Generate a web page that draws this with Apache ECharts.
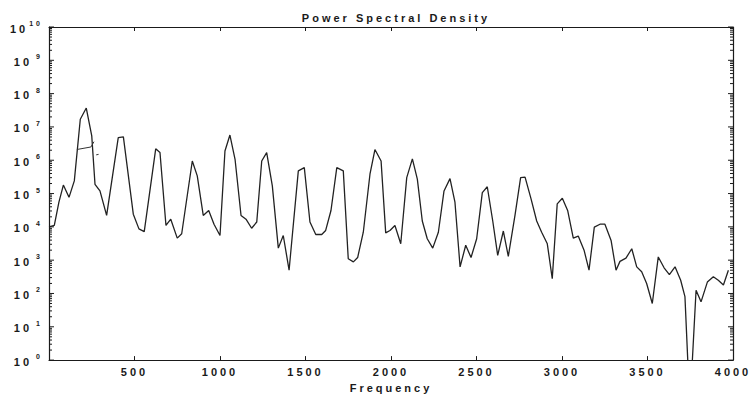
<!DOCTYPE html>
<html>
<head>
<meta charset="utf-8">
<script src="https://cdn.jsdelivr.net/npm/echarts@6/dist/echarts.min.js"></script>
<style>
  html, body { margin: 0; padding: 0; background: #ffffff; }
  #chart { width: 751px; height: 398px; }
  #chart text { letter-spacing: 3px; }
</style>
</head>
<body>
<div id="chart"></div>
<script>
// Frequencies (Hz) of the line's vertices
const freqs = [
  0, 31, 58, 84, 117, 148, 183, 218, 250, 269, 298, 337, 405, 435, 493, 526, 557, 624, 649,
  684, 712, 750, 776, 838, 867, 902, 934, 965, 1000, 1029, 1058, 1088, 1123, 1152, 1185, 1215,
  1244, 1273, 1306, 1341, 1370, 1404, 1458, 1493, 1526, 1560, 1595, 1618, 1649, 1683, 1721,
  1750, 1780, 1805, 1838, 1877, 1906, 1942, 1969, 1994, 2023, 2057, 2092, 2125, 2154, 2183,
  2212, 2244, 2277, 2310, 2345, 2374, 2404, 2437, 2468, 2501, 2534, 2563, 2595, 2624, 2657,
  2686, 2725, 2758, 2784, 2819, 2852, 2881, 2914, 2943, 2972, 3002, 3033, 3066, 3095, 3129,
  3158, 3189, 3222, 3251, 3287, 3316, 3339, 3374, 3408, 3437, 3466, 3495, 3528, 3563, 3597,
  3628, 3661, 3694, 3719, 3740, 3757, 3784, 3813, 3850, 3885, 3914, 3944, 3973
];
// Power spectral density at those frequencies
const psd = [
  1.0e4, 1.1e4, 5.5e4, 1.8e5, 7.7e4, 2.4e5, 1.7e7, 3.7e7, 5.4e6, 1.9e5, 1.2e5, 2.2e4, 4.8e6, 5.0e6, 2.4e4, 8.7e3, 7.2e3, 2.2e6, 1.7e6,
  1.1e4, 1.7e4, 4.6e3, 6.2e3, 9.5e5, 3.4e5, 2.2e4, 3.1e4, 1.2e4, 5.5e3, 1.9e6, 5.7e6, 1.07e6, 2.2e4, 1.7e4, 9.1e3, 1.4e4,
  9.5e5, 1.7e6, 1.7e5, 2.3e3, 5.5e3, 5.0e2, 4.8e5, 6.0e5, 1.4e4, 5.9e3, 5.9e3, 7.8e3, 3.1e4, 6.0e5, 4.8e5,
  1.1e3, 8.9e2, 1.2e3, 6.9e3, 3.8e5, 2.1e6, 9.5e5, 6.6e3, 7.8e3, 1.1e4, 3.1e3, 3.0e5, 1.1e6, 2.7e5, 1.5e4,
  4.4e3, 2.3e3, 6.9e3, 1.2e5, 2.8e5, 5.5e4, 6.3e2, 2.8e3, 1.2e3, 4.4e3, 1.07e5, 1.6e5, 1.5e4, 1.4e3, 7.5e3,
  1.3e3, 2.2e4, 3.0e5, 3.1e5, 6.9e4, 1.5e4, 6.9e3, 3.1e3, 2.8e2, 4.9e4, 7.2e4, 3.1e4, 4.6e3, 5.3e3, 2.0e3,
  5.0e2, 9.8e3, 1.2e4, 1.2e4, 3.9e3, 5.0e2, 9.2e2, 1.15e3, 2.2e3, 6.3e2, 4.5e2, 2.0e2, 50, 1.25e3, 5.9e2,
  3.7e2, 6.3e2, 2.5e2, 80, 0.3, 0.3, 125, 56, 2.2e2, 3.2e2, 2.5e2, 1.8e2, 5.0e2
];
// Short stray stroke near the first peak
const strokeFreqs = [163, 245, 263, null, 276, 290];
const strokeVals  = [2.1e6, 2.5e6, 3.6e6, null, 1.45e6, 1.5e6];

const xTicks = [0, 500, 1000, 1500, 2000, 2500, 3000, 3500, 4000];
const yDecades = [0, 1, 2, 3, 4, 5, 6, 7, 8, 9, 10];

// y-axis ticks: decades (long) and 2..9 within each decade (short)
const yTickVals = [];
const yTickLong = [];
yDecades.forEach(d => {
  yTickVals.push(Math.pow(10, d)); yTickLong.push(1);
  if (d < 10) for (let m = 2; m <= 9; m++) { yTickVals.push(m * Math.pow(10, d)); yTickLong.push(0); }
});

const FONT = '"Liberation Sans", Arial, sans-serif';
const INK = '#1a1a1a';

const lineData = freqs.map((f, i) => [f, psd[i]]);
const strokeData = strokeFreqs.map((f, i) => f === null ? '-' : [f, strokeVals[i]]);
const tickData = yTickVals.map((v, i) => [xTicks[0], v, yTickLong[i]]);

const yBase = {
  type: 'log', logBase: 10, min: 1, max: 1e10, interval: 1,
  axisLine: { show: true, onZero: false, lineStyle: { color: INK, width: 1.2 } },
  axisTick: { show: false },
  splitLine: { show: false },
};

const chart = echarts.init(document.getElementById('chart'), null, { renderer: 'svg' });
chart.setOption({
  animation: false,
  backgroundColor: '#ffffff',
  title: {
    text: 'Power Spectral Density',
    left: 391, top: 7, textAlign: 'center',
    textStyle: { fontFamily: FONT, fontSize: 11, fontWeight: 'bold', color: INK }
  },
  grid: { left: 49, right: 18, top: 27, bottom: 36, containLabel: false },
  xAxis: [
    {
      type: 'value', min: 0, max: 4000, interval: 500, position: 'bottom',
      name: 'Frequency', nameLocation: 'middle', nameGap: 21,
      nameTextStyle: { fontFamily: FONT, fontSize: 11, fontWeight: 'bold', color: INK },
      axisLine: { onZero: false, lineStyle: { color: INK, width: 1.2 } },
      axisTick: { inside: true, length: 4, lineStyle: { color: INK } },
      axisLabel: {
        margin: 6, fontFamily: FONT, fontSize: 11, fontWeight: 'bold', color: INK,
        formatter: v => (v === 0 ? '' : String(v))
      },
      splitLine: { show: false }
    },
    {
      type: 'value', min: 0, max: 4000, interval: 500, position: 'top',
      axisLine: { onZero: false, lineStyle: { color: INK, width: 1.2 } },
      axisTick: { inside: true, length: 4, lineStyle: { color: INK } },
      axisLabel: { show: false },
      splitLine: { show: false }
    }
  ],
  yAxis: [
    Object.assign({}, yBase, {
      position: 'left',
      axisLabel: {
        margin: 6, fontFamily: FONT, color: INK,
        formatter: v => '{b|10}{s|' + Math.round(Math.log10(v)) + '}',
        rich: {
          b: { fontFamily: FONT, fontSize: 11, fontWeight: 'bold', color: INK, lineHeight: 14, verticalAlign: 'bottom' },
          s: { fontFamily: FONT, fontSize: 7, fontWeight: 'bold', color: INK, lineHeight: 14, verticalAlign: 'top', padding: [0, 0, 0, 7] }
        }
      }
    }),
    Object.assign({}, yBase, {
      position: 'right',
      axisLabel: { show: false }
    })
  ],
  series: [
    {
      type: 'line', xAxisIndex: 0, yAxisIndex: 0,
      data: lineData, showSymbol: false, symbol: 'none', clip: true,
      lineStyle: { color: '#222222', width: 1.3 }
    },
    {
      type: 'line', xAxisIndex: 0, yAxisIndex: 0,
      data: strokeData, showSymbol: false, symbol: 'none', connectNulls: false,
      lineStyle: { color: '#333333', width: 1 }
    },
    {
      // log-spaced ticks on both vertical axes
      type: 'custom', xAxisIndex: 0, yAxisIndex: 0, clip: false, silent: true, z: 5,
      data: tickData,
      renderItem: function (params, api) {
        const v = api.value(1);
        const len = api.value(2) ? 5 : 3;
        const pl = api.coord([xTicks[0], v]);
        const pr = api.coord([xTicks[xTicks.length - 1], v]);
        const st = { stroke: INK, lineWidth: 1 };
        return {
          type: 'group',
          children: [
            { type: 'line', shape: { x1: pl[0], y1: pl[1], x2: pl[0] + len, y2: pl[1] }, style: st },
            { type: 'line', shape: { x1: pr[0], y1: pr[1], x2: pr[0] - len, y2: pr[1] }, style: st }
          ]
        };
      }
    }
  ]
});
</script>
</body>
</html>
